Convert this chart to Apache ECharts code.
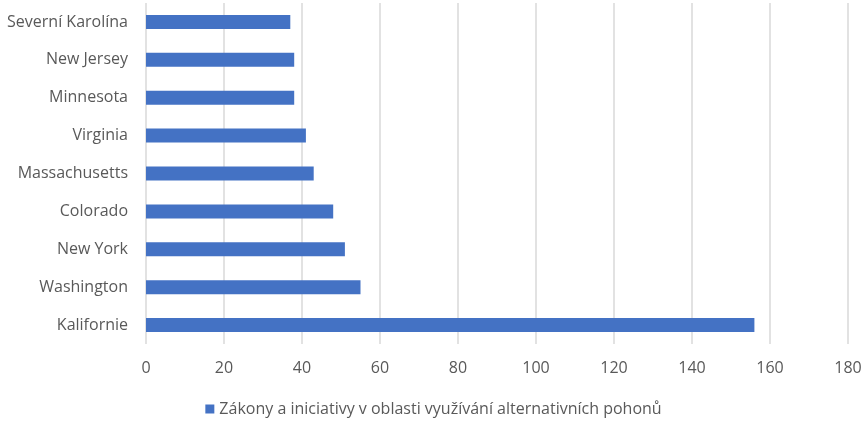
<!DOCTYPE html>
<html>
<head>
<meta charset="utf-8">
<script src="https://cdn.jsdelivr.net/npm/echarts@6/dist/echarts.min.js"></script>
<style>
  html, body { margin: 0; padding: 0; background: #ffffff; }
  #chart { width: 867px; height: 422px; }
</style>
</head>
<body>
<div id="chart"></div>
<script>
// States, bottom to top as drawn on the category axis
const states = ['Kalifornie', 'Washington', 'New York', 'Colorado', 'Massachusetts', 'Virginia', 'Minnesota', 'New Jersey', 'Severní Karolína'];
const lawCounts = [156, 55, 51, 48, 43, 41, 38, 38, 37];
const seriesName = 'Zákony a iniciativy v oblasti využívání alternativních pohonů';
const axisTicks = [0, 20, 40, 60, 80, 100, 120, 140, 160, 180];

const textColor = '#595959';
const fontFamily = '"Open Sans", "Noto Sans", sans-serif';

const chart = echarts.init(document.getElementById('chart'), null, { renderer: 'canvas' });
chart.setOption({
  animation: false,
  textStyle: { fontFamily: fontFamily },
  grid: { left: 146, right: 19, top: 3, bottom: 78, containLabel: false },
  xAxis: {
    type: 'value',
    min: axisTicks[0],
    max: axisTicks[axisTicks.length - 1],
    interval: axisTicks[1] - axisTicks[0],
    axisLine: { show: false },
    axisTick: { show: false },
    axisLabel: { color: textColor, fontSize: 16, margin: 16, fontFamily: fontFamily },
    splitLine: { show: true, lineStyle: { color: '#d9d9d9', width: 1.5 } }
  },
  yAxis: {
    type: 'category',
    data: states,
    axisLine: { show: false },
    axisTick: { show: false },
    axisLabel: { color: textColor, fontSize: 16, margin: 18, fontFamily: fontFamily }
  },
  legend: {
    bottom: 0,
    left: 'center',
    itemWidth: 9,
    itemHeight: 9,
    icon: 'rect',
    itemGap: 4,
    textStyle: { color: textColor, fontSize: 16, fontFamily: fontFamily },
    data: [seriesName]
  },
  series: [{
    name: seriesName,
    type: 'bar',
    data: lawCounts,
    barWidth: 14,
    itemStyle: { color: '#4472C4' }
  }]
});
</script>
</body>
</html>
